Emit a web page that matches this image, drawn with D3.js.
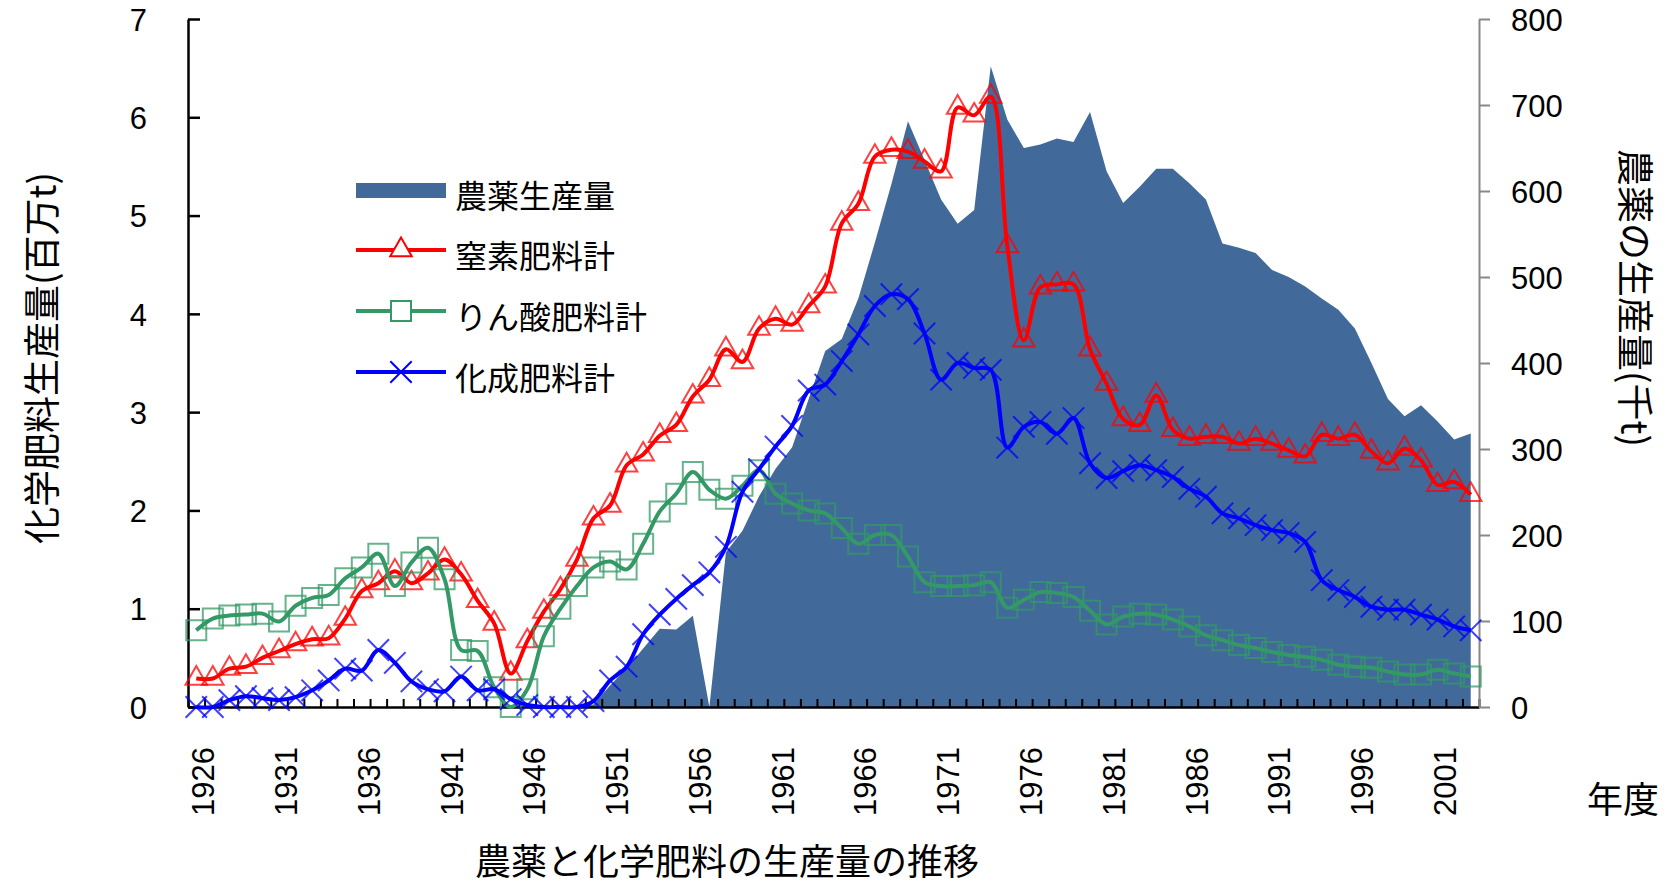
<!DOCTYPE html>
<html>
<head>
<meta charset="utf-8">
<script src="https://cdn.jsdelivr.net/npm/d3@7"></script>
<style>
  html, body { margin: 0; padding: 0; background: #fff; }
  svg { display: block; font-family: "Noto Sans CJK JP", "Noto Sans", sans-serif; }
</style>
</head>
<body>
<svg id="chart" width="1668" height="885"></svg>
<script>
// 年度 (categories)
const years = [
  1926,1927,1928,1929,1930,1931,1932,1933,1934,1935,
  1936,1937,1938,1939,1940,1941,1942,1943,1944,1945,
  1946,1947,1948,1949,1950,1951,1952,1953,1954,1955,
  1956,1957,1958,1959,1960,1961,1962,1963,1964,1965,
  1966,1967,1968,1969,1970,1971,1972,1973,1974,1975,
  1976,1977,1978,1979,1980,1981,1982,1983,1984,1985,
  1986,1987,1988,1989,1990,1991,1992,1993,1994,1995,
  1996,1997,1998,1999,2000,2001,2002,2003
];

// 農薬生産量 (千t) — right axis
const pesticide = [
  0,0,0,0,0,0,0,0,0,0,
  0,0,0,0,0,0,0,0,0,0,
  0,0,0,0,3,25,45,68,91,90,
  106,0,180,205,245,277,302,358,414,428,
  475,540,608,681,636,590,562,578,745,683,
  650,654,661,657,692,623,586,605,626,626,
  609,590,539,534,528,508,500,489,475,462,
  440,400,358,338,351,332,311,318
];

// 窒素肥料計 (百万t)
const nitrogen = [
  0.29,0.29,0.39,0.41,0.50,0.57,0.64,0.69,0.70,0.90,
  1.18,1.26,1.38,1.26,1.36,1.50,1.35,1.08,0.85,0.34,
  0.67,0.97,1.20,1.50,1.92,2.05,2.46,2.57,2.76,2.87,
  3.16,3.33,3.64,3.51,3.85,3.95,3.89,4.08,4.28,4.92,
  5.12,5.60,5.67,5.65,5.55,5.45,6.10,6.02,6.21,4.69,
  3.73,4.27,4.30,4.30,3.64,3.29,2.93,2.87,3.17,2.82,
  2.73,2.75,2.75,2.68,2.73,2.68,2.61,2.55,2.77,2.73,
  2.77,2.60,2.48,2.63,2.51,2.26,2.29,2.16
];

// りん酸肥料計 (百万t)
const phosphate = [
  0.78,0.90,0.93,0.94,0.95,0.87,1.03,1.11,1.14,1.31,
  1.42,1.56,1.23,1.47,1.62,1.30,0.58,0.57,0.20,0.00,
  0.18,0.72,1.00,1.23,1.42,1.48,1.40,1.66,1.99,2.17,
  2.39,2.21,2.12,2.25,2.41,2.17,2.07,2.00,1.97,1.82,
  1.66,1.75,1.75,1.53,1.27,1.23,1.23,1.24,1.27,1.01,
  1.09,1.17,1.16,1.12,0.98,0.84,0.92,0.95,0.94,0.89,
  0.82,0.73,0.68,0.63,0.60,0.56,0.53,0.51,0.48,0.43,
  0.41,0.40,0.36,0.33,0.33,0.38,0.34,0.31
];

// 化成肥料計 (百万t)
const compound = [
  0.00,0.00,0.07,0.11,0.09,0.07,0.10,0.17,0.27,0.39,
  0.37,0.58,0.45,0.26,0.18,0.16,0.31,0.17,0.18,0.08,
  0.02,0.00,0.00,0.00,0.06,0.27,0.41,0.74,0.94,1.10,
  1.24,1.37,1.63,2.19,2.42,2.65,2.86,3.22,3.28,3.52,
  3.79,4.08,4.20,4.15,3.80,3.33,3.50,3.45,3.43,2.64,
  2.85,2.90,2.78,2.94,2.48,2.33,2.40,2.46,2.41,2.34,
  2.22,2.14,1.97,1.92,1.85,1.80,1.77,1.68,1.29,1.19,
  1.12,1.02,0.99,0.99,0.94,0.89,0.82,0.78
];

const leftTicks = [0,1,2,3,4,5,6,7];
const rightTicks = [0,100,200,300,400,500,600,700,800];
const yearLabels = [1926,1931,1936,1941,1946,1951,1956,1961,1966,1971,1976,1981,1986,1991,1996,2001];

const AREA_COLOR = "#416a9b";
const NUM_FONT = "'Liberation Sans', Arial, sans-serif";
const lineSeries = [
  { name: "窒素肥料計",   values: nitrogen,  color: "#ff0000", marker: "triangle" },
  { name: "りん酸肥料計", values: phosphate, color: "#339966", marker: "square" },
  { name: "化成肥料計",   values: compound,  color: "#0000ff", marker: "x" }
];

const svg = d3.select("#chart");

// scales
const x = d3.scaleBand().domain(years).range([188, 1479]).padding(0);
const cx = yr => x(yr) + x.bandwidth() / 2;
const yL = d3.scaleLinear().domain([0, 7]).range([707, 19]);
const yR = d3.scaleLinear().domain([0, 800]).range([707, 19]);
const slot = d3.scaleLinear().domain([0, years.length]).range([188, 1479]);

// pesticide area (secondary axis)
const area = d3.area()
  .x((d, i) => cx(years[i]))
  .y0(yR(0))
  .y1(d => yR(d));
svg.append("path").datum(pesticide)
  .attr("d", area)
  .attr("fill", AREA_COLOR);

// bottom axis: category boundary ticks pointing inward
const gBottom = svg.append("g").attr("transform", "translate(0,707)")
  .call(d3.axisBottom(slot).tickValues(d3.range(0, years.length + 1)).tickSizeInner(-8).tickSizeOuter(0).tickFormat(""));
gBottom.select(".domain").attr("stroke", "#000").attr("stroke-width", 2.5);
gBottom.selectAll(".tick line").attr("stroke", "#000").attr("stroke-width", 2);

// year labels, rotated
const gYears = svg.append("g").attr("transform", "translate(0,707)")
  .call(d3.axisBottom(x).tickValues(yearLabels).tickSize(0));
gYears.select(".domain").remove();
gYears.selectAll(".tick text")
  .attr("x", 0).attr("y", 0).attr("dy", "0.36em")
  .attr("text-anchor", "end")
  .attr("transform", "translate(7,40) rotate(-90)")
  .attr("font-size", 31)
  .attr("font-family", NUM_FONT)
  .attr("fill", "#000");

// left axis
const gLeft = svg.append("g").attr("transform", "translate(188,0)")
  .call(d3.axisLeft(yL).tickValues(leftTicks).tickFormat(d3.format("d"))
    .tickSizeInner(-12).tickSizeOuter(0).tickPadding(41));
gLeft.select(".domain").attr("stroke", "#000").attr("stroke-width", 2.5);
gLeft.selectAll(".tick line").attr("stroke", "#000").attr("stroke-width", 2.5);
gLeft.selectAll(".tick text")
  .attr("dy", "0.36em")
  .attr("font-size", 31).attr("font-family", NUM_FONT).attr("fill", "#000");

// right axis
const gRight = svg.append("g").attr("transform", "translate(1479,0)")
  .call(d3.axisRight(yR).tickValues(rightTicks).tickFormat(d3.format("d"))
    .tickSizeInner(11).tickSizeOuter(0).tickPadding(21));
gRight.select(".domain").attr("stroke", "#888").attr("stroke-width", 2);
gRight.selectAll(".tick line").attr("stroke", "#888").attr("stroke-width", 2);
gRight.selectAll(".tick text")
  .attr("dy", "0.36em")
  .attr("font-size", 31).attr("font-family", NUM_FONT).attr("fill", "#000");

// marker shapes
const markerPath = {
  triangle: d3.symbol(d3.symbolTriangle, 200)(),
  square: d3.symbol(d3.symbolSquare, 400)(),
  x: d3.symbol(d3.symbolX, 300)()
};

// fertilizer lines
const line = d3.line()
  .x((d, i) => cx(years[i]))
  .y(d => yL(d))
  .curve(d3.curveCatmullRom.alpha(0.5));

lineSeries.forEach(s => {
  svg.append("path").datum(s.values)
    .attr("d", line)
    .attr("fill", "none")
    .attr("stroke", s.color)
    .attr("stroke-width", 4)
    .attr("stroke-linejoin", "round");
  svg.append("g").selectAll("path").data(s.values).join("path")
    .attr("d", markerPath[s.marker])
    .attr("transform", (d, i) => `translate(${cx(years[i])},${yL(d)})`)
    .attr("fill", "none")
    .attr("stroke", s.color)
    .attr("stroke-opacity", 0.75)
    .attr("stroke-width", 2);
});

// legend
const legend = svg.append("g");
const lgX0 = 356, lgX1 = 446, lgMid = 401, lgText = 455;
legend.append("rect")
  .attr("x", lgX0).attr("y", 183).attr("width", lgX1 - lgX0).attr("height", 15)
  .attr("fill", AREA_COLOR);
legend.append("text").attr("x", lgText).attr("y", 208)
  .attr("font-size", 32).attr("fill", "#000").text("農薬生産量");

lineSeries.forEach((s, i) => {
  const cy = 250 + i * 61;
  legend.append("line")
    .attr("x1", lgX0).attr("x2", lgX1).attr("y1", cy).attr("y2", cy)
    .attr("stroke", s.color).attr("stroke-width", 4);
  legend.append("path")
    .attr("d", markerPath[s.marker])
    .attr("transform", `translate(${lgMid},${cy})`)
    .attr("fill", s.marker === "x" ? "none" : "#fff")
    .attr("stroke", s.color).attr("stroke-width", 2);
  legend.append("text").attr("x", lgText).attr("y", cy + 18)
    .attr("font-size", 32).attr("fill", "#000").text(s.name);
});

// axis titles
svg.append("text")
  .attr("transform", "translate(42,358) rotate(-90)")
  .attr("text-anchor", "middle").attr("dy", "0.38em")
  .attr("font-size", 37).attr("fill", "#000")
  .text("化学肥料生産量(百万t)");

svg.append("text")
  .attr("transform", "translate(1635,298) rotate(90)")
  .attr("text-anchor", "middle").attr("dy", "0.38em")
  .attr("font-size", 37).attr("fill", "#000")
  .text("農薬の生産量(千t)");

svg.append("text")
  .attr("x", 1587).attr("y", 813)
  .attr("font-size", 36).attr("fill", "#000")
  .text("年度");

svg.append("text")
  .attr("x", 475).attr("y", 875)
  .attr("font-size", 36).attr("fill", "#000")
  .text("農薬と化学肥料の生産量の推移");
</script>
</body>
</html>
